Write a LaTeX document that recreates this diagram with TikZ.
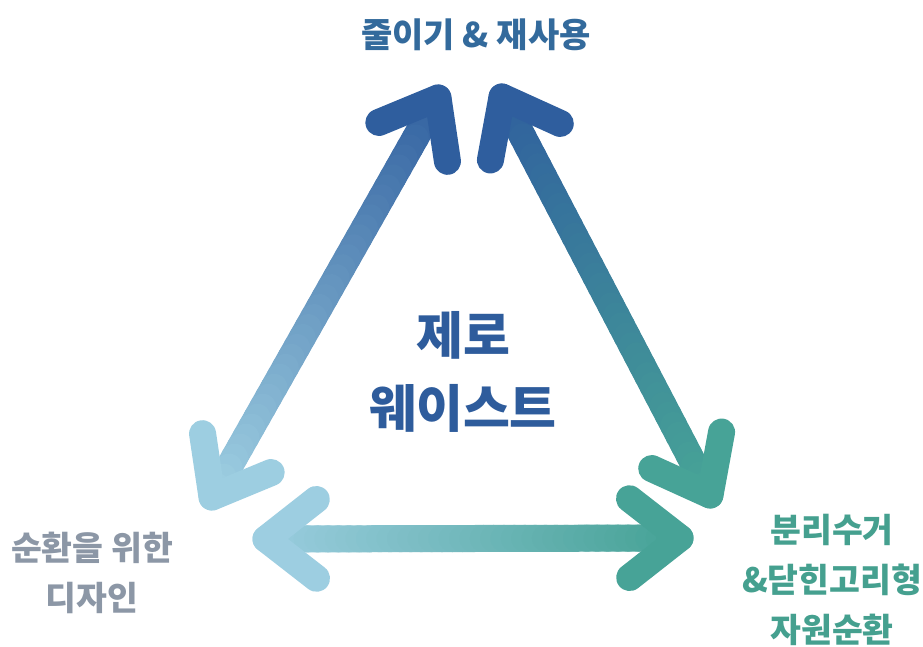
\documentclass[tikz,border=0pt]{standalone}
\usepackage{fontspec}
\setmainfont{Noto Sans CJK KR}
\usetikzlibrary{calc}
\definecolor{cdark}{HTML}{2F5E9E}
\definecolor{clight}{HTML}{9DCEE1}
\definecolor{cteal}{HTML}{47A397}
\definecolor{ctitle}{HTML}{336A9C}
\definecolor{ccenter}{HTML}{2E5C9C}
\definecolor{cgray}{HTML}{8C97A6}
\definecolor{cgreen}{HTML}{45A08F}
\tikzset{
  shaft/.style={line width=27pt, line cap=round, line join=round},
  lbl/.style={inner sep=0pt, align=center},
}
\newcommand{\myGradArrow}[4]{%
  \foreach \i in {0,...,39}{%
    \pgfmathsetmacro\pa{\i/40}%
    \pgfmathsetmacro\pb{(\i+1)/40}%
    \pgfmathsetmacro\pc{100*(\i+0.5)/40}%
    \draw[shaft, draw={#4!\pc!#3}] ($(#1)!\pa!(#2)$) -- ($(#1)!\pb!(#2)$);
  }%
  \draw[shaft, draw=#3] ($(#1)!64pt!38:(#2)$) -- (#1) -- ($(#1)!64pt!-38:(#2)$);
  \draw[shaft, draw=#4] ($(#2)!64pt!38:(#1)$) -- (#2) -- ($(#2)!64pt!-38:(#1)$);
}
\begin{document}
\begin{tikzpicture}[x=1pt, y=-1pt]
  \fill[white] (0,0) rectangle (923,647);
  \useasboundingbox (0,0) rectangle (923,647);

  \coordinate (LT) at (438,98);
  \coordinate (LB) at (212,497);
  \coordinate (RT) at (502,97);
  \coordinate (RB) at (710,495);
  \coordinate (BL) at (266,539);
  \coordinate (BR) at (680,538);

  \myGradArrow{LT}{LB}{cdark}{clight}
  \myGradArrow{RT}{RB}{cdark}{cteal}
  \myGradArrow{BL}{BR}{clight}{cteal}

  \node[lbl, font=\bfseries\fontsize{34}{40}\selectfont, text=ctitle] (top) at (476,35) {줄이기 \& 재사용};
  \node[lbl, font=\bfseries\fontsize{51}{73}\selectfont, text=ccenter] (center) at (463,372) {제로\\웨이스트};
  \node[lbl, font=\bfseries\fontsize{33.5}{50}\selectfont, text=cgray] (left) at (92,573) {순환을 위한\\디자인};
  \node[lbl, font=\bfseries\fontsize{33.5}{50}\selectfont, text=cgreen] (right) at (832,580) {분리수거\\\&닫힌고리형\\자원순환};
\end{tikzpicture}
\end{document}
